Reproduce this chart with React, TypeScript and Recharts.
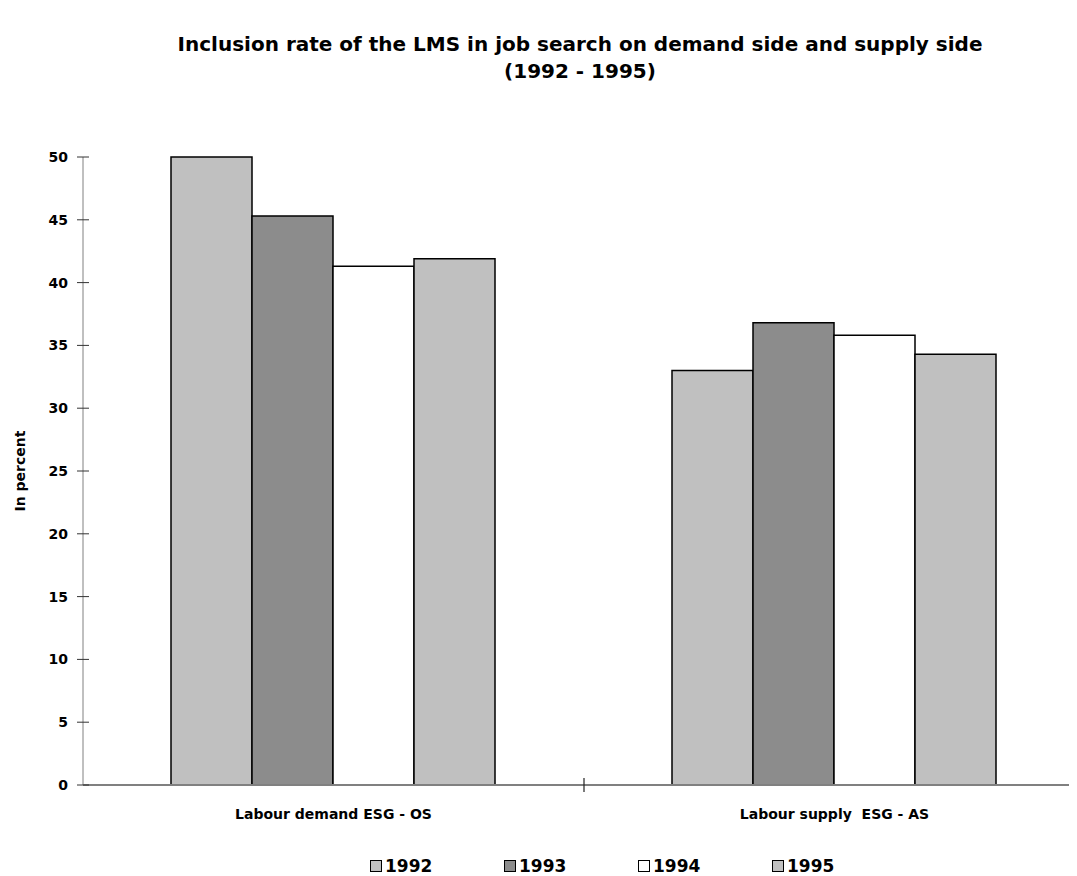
import { BarChart, Bar, XAxis, YAxis, Legend, Label } from "recharts";

// Inclusion rate of the LMS in job search, grouped by demand/supply side.
const CATEGORIES = ["Labour demand ESG - OS", "Labour supply  ESG - AS"];
const YEARS = ["1992", "1993", "1994", "1995"] as const;
const VALUES_1992 = [50.0, 33.0];
const VALUES_1993 = [45.3, 36.8];
const VALUES_1994 = [41.3, 35.8];
const VALUES_1995 = [41.9, 34.3];
const Y_TICKS = [0, 5, 10, 15, 20, 25, 30, 35, 40, 45, 50];

const FILLS: Record<string, string> = {
  "1992": "#c0c0c0",
  "1993": "#8c8c8c",
  "1994": "#ffffff",
  "1995": "#c0c0c0",
};

const rows = CATEGORIES.map((name, i) => ({
  name,
  "1992": VALUES_1992[i],
  "1993": VALUES_1993[i],
  "1994": VALUES_1994[i],
  "1995": VALUES_1995[i],
}));

const FONT = "'DejaVu Sans', Verdana, sans-serif";
const X_TICK_MARGIN = 23;

function YTick(props: any) {
  const { x, y, payload } = props;
  return (
    <g>
      <line x1={x + 9} x2={x + 21} y1={y} y2={y} stroke="#333" strokeWidth={1} />
      <text x={x} y={y} dy={5} textAnchor="end" fontFamily={FONT} fontWeight="bold" fontSize={14} fill="#000">
        {payload.value}
      </text>
    </g>
  );
}

// Category label plus a small divider mark on the axis between neighbouring groups.
function XTick(props: any) {
  const { x, y, payload, index, width, visibleTicksCount } = props;
  const band = width / visibleTicksCount;
  const axisY = y - X_TICK_MARGIN;
  return (
    <g>
      {index < visibleTicksCount - 1 && (
        <line x1={x + band / 2} x2={x + band / 2} y1={axisY - 7} y2={axisY + 7} stroke="#222" strokeWidth={1.2} />
      )}
      <text
        x={x}
        y={y}
        dy={11}
        textAnchor="middle"
        fontFamily={FONT}
        fontWeight="bold"
        fontSize={14}
        fill="#000"
        style={{ whiteSpace: "pre" }}
      >
        {payload.value}
      </text>
    </g>
  );
}

function LegendContent() {
  return (
    <div style={{ display: "flex", fontFamily: FONT, fontWeight: "bold", fontSize: 17, lineHeight: "20px" }}>
      {YEARS.map((yr) => (
        <div key={yr} style={{ display: "flex", alignItems: "center", width: 134 }}>
          <span
            style={{
              width: 10,
              height: 10,
              border: "1px solid #000",
              background: FILLS[yr],
              marginRight: 3,
              display: "inline-block",
            }}
          />
          <span>{yr}</span>
        </div>
      ))}
    </div>
  );
}

export default function App() {
  return (
    <div style={{ position: "relative", width: 1069, height: 868, overflow: "hidden" }}>
      <div
        style={{
          position: "absolute",
          left: 572,
          top: 23,
          transform: "translateX(-50%)",
          whiteSpace: "nowrap",
          textAlign: "center",
          fontFamily: FONT,
          fontWeight: "bold",
          fontSize: 20,
          lineHeight: "27px",
          color: "#000",
        }}
      >
        Inclusion rate of the LMS in job search on demand side and supply side
        <br />
        (1992 - 1995)
      </div>
      <BarChart
        width={1090}
        height={868}
        data={rows}
        margin={{ top: 149, right: 13, bottom: 0, left: 0 }}
        barCategoryGap={88}
        barGap={0}
      >
        <XAxis
          dataKey="name"
          height={71}
          axisLine={{ stroke: "#808080", strokeWidth: 2 }}
          tickLine={false}
          tickSize={0}
          tickMargin={X_TICK_MARGIN}
          interval={0}
          tick={<XTick />}
        />
        <YAxis
          width={75}
          domain={[0, 50]}
          ticks={Y_TICKS}
          interval={0}
          axisLine={{ stroke: "#808080", strokeWidth: 1 }}
          tickLine={false}
          tickSize={6}
          tickMargin={9}
          tick={<YTick />}
        >
          <Label
            content={({ viewBox }: any) => {
              const cx = viewBox.x + 12;
              const cy = viewBox.y + viewBox.height / 2;
              return (
                <text
                  x={cx}
                  y={cy}
                  transform={`rotate(-90 ${cx} ${cy})`}
                  textAnchor="middle"
                  dominantBaseline="central"
                  fontFamily={FONT}
                  fontWeight="bold"
                  fontSize={14}
                  fill="#000"
                >
                  In percent
                </text>
              );
            }}
          />
        </YAxis>
        <Legend
          verticalAlign="bottom"
          align="left"
          wrapperStyle={{ left: 362, width: "auto" }}
          content={<LegendContent />}
        />
        {YEARS.map((yr) => (
          <Bar
            key={yr}
            dataKey={yr}
            fill={FILLS[yr]}
            stroke="#000"
            strokeWidth={1.5}
            isAnimationActive={false}
          />
        ))}
      </BarChart>
    </div>
  );
}
